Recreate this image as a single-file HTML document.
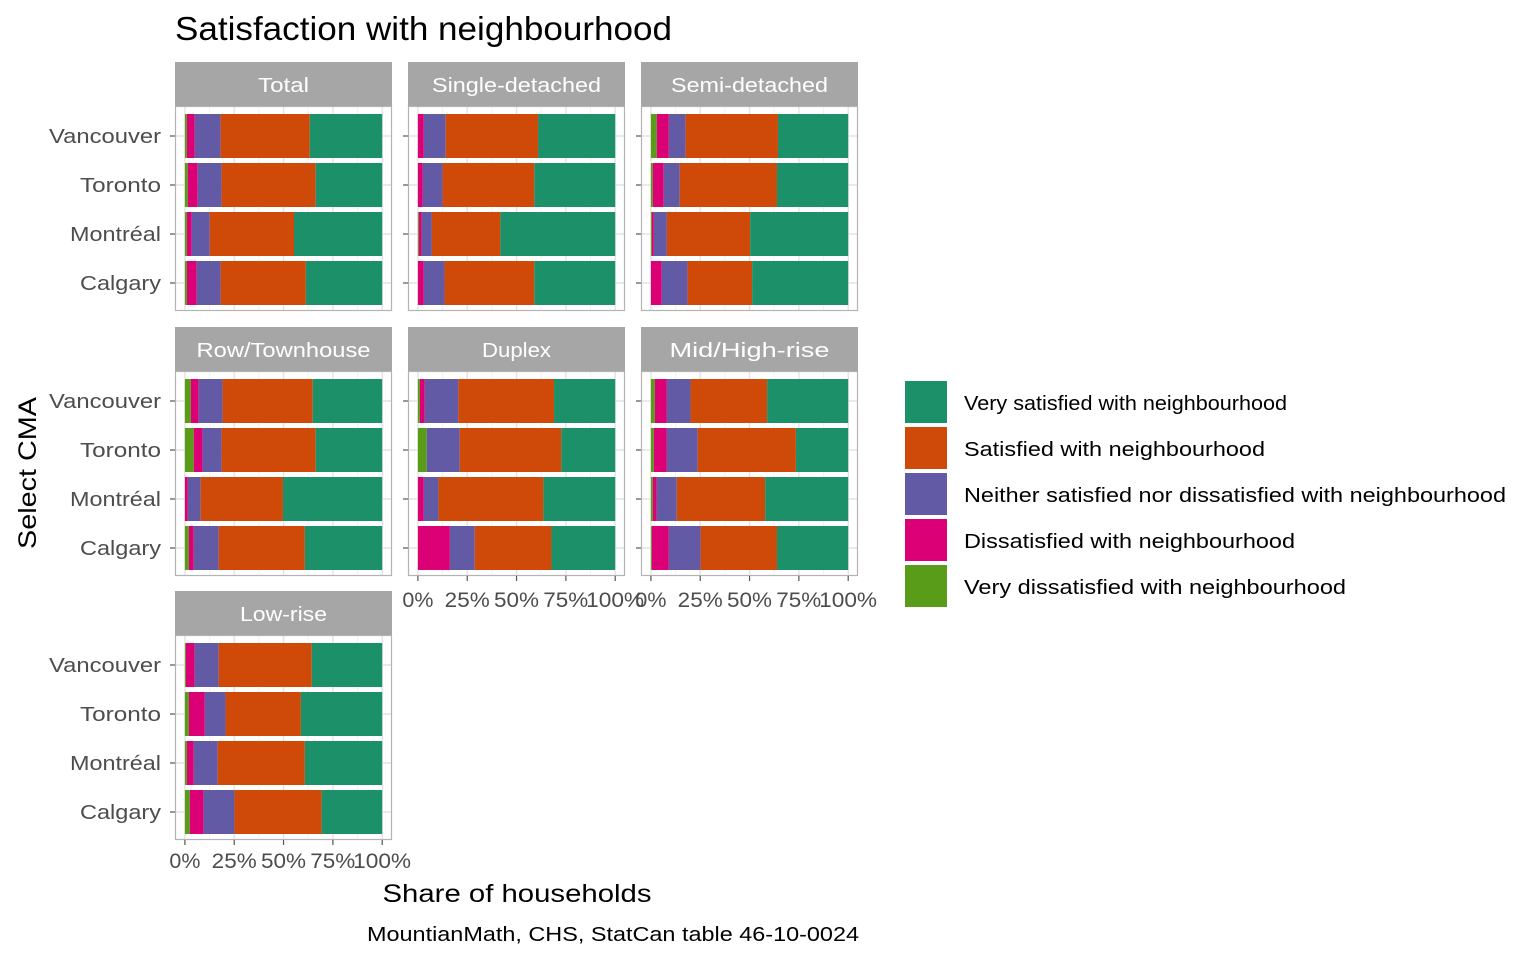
<!DOCTYPE html>
<html><head><meta charset="utf-8"><style>
html,body{margin:0;padding:0;background:#fff}
svg{display:block;font-family:"Liberation Sans",Arial,sans-serif}
</style></head><body>
<svg id="s" width="1536" height="960" xmlns="http://www.w3.org/2000/svg">
<g id="panels"></g>
<text x="175" y="40" font-size="33" fill="#000" textLength="497" lengthAdjust="spacingAndGlyphs">Satisfaction with neighbourhood</text>
<g font-size="20.5" fill="#fff" text-anchor="middle">
<rect x="175" y="62" width="217" height="44" fill="#a6a6a6"/><text x="283.5" y="92" textLength="51" lengthAdjust="spacingAndGlyphs">Total</text>
<rect x="408" y="62" width="217" height="44" fill="#a6a6a6"/><text x="516.5" y="92" textLength="169" lengthAdjust="spacingAndGlyphs">Single-detached</text>
<rect x="641" y="62" width="217" height="44" fill="#a6a6a6"/><text x="749.5" y="92" textLength="157" lengthAdjust="spacingAndGlyphs">Semi-detached</text>
<rect x="175" y="327" width="217" height="44" fill="#a6a6a6"/><text x="283.5" y="357" textLength="174" lengthAdjust="spacingAndGlyphs">Row/Townhouse</text>
<rect x="408" y="327" width="217" height="44" fill="#a6a6a6"/><text x="516.5" y="357" textLength="69" lengthAdjust="spacingAndGlyphs">Duplex</text>
<rect x="641" y="327" width="217" height="44" fill="#a6a6a6"/><text x="749.5" y="357" textLength="160" lengthAdjust="spacingAndGlyphs">Mid/High-rise</text>
<rect x="175" y="591" width="217" height="44" fill="#a6a6a6"/><text x="283.5" y="621" textLength="87" lengthAdjust="spacingAndGlyphs">Low-rise</text>
</g>
<g font-size="20.5" fill="#4d4d4d">
<text x="49" y="143" textLength="112" lengthAdjust="spacingAndGlyphs">Vancouver</text><text x="80" y="192" textLength="81" lengthAdjust="spacingAndGlyphs">Toronto</text><text x="70" y="241" textLength="91" lengthAdjust="spacingAndGlyphs">Montréal</text><text x="80" y="290" textLength="81" lengthAdjust="spacingAndGlyphs">Calgary</text>
<text x="49" y="408" textLength="112" lengthAdjust="spacingAndGlyphs">Vancouver</text><text x="80" y="457" textLength="81" lengthAdjust="spacingAndGlyphs">Toronto</text><text x="70" y="506" textLength="91" lengthAdjust="spacingAndGlyphs">Montréal</text><text x="80" y="555" textLength="81" lengthAdjust="spacingAndGlyphs">Calgary</text>
<text x="49" y="672" textLength="112" lengthAdjust="spacingAndGlyphs">Vancouver</text><text x="80" y="721" textLength="81" lengthAdjust="spacingAndGlyphs">Toronto</text><text x="70" y="770" textLength="91" lengthAdjust="spacingAndGlyphs">Montréal</text><text x="80" y="819" textLength="81" lengthAdjust="spacingAndGlyphs">Calgary</text>
</g>
<g font-size="21" fill="#4d4d4d" text-anchor="middle">
<text x="417.9" y="607" textLength="31" lengthAdjust="spacingAndGlyphs">0%</text><text x="467.2" y="607" textLength="45" lengthAdjust="spacingAndGlyphs">25%</text><text x="516.5" y="607" textLength="45" lengthAdjust="spacingAndGlyphs">50%</text><text x="565.8" y="607" textLength="45" lengthAdjust="spacingAndGlyphs">75%</text><text x="615.1" y="607" textLength="58" lengthAdjust="spacingAndGlyphs">100%</text>
<text x="650.9" y="607" textLength="31" lengthAdjust="spacingAndGlyphs">0%</text><text x="700.2" y="607" textLength="45" lengthAdjust="spacingAndGlyphs">25%</text><text x="749.5" y="607" textLength="45" lengthAdjust="spacingAndGlyphs">50%</text><text x="798.8" y="607" textLength="45" lengthAdjust="spacingAndGlyphs">75%</text><text x="848.1" y="607" textLength="58" lengthAdjust="spacingAndGlyphs">100%</text>
<text x="184.9" y="868" textLength="31" lengthAdjust="spacingAndGlyphs">0%</text><text x="234.2" y="868" textLength="45" lengthAdjust="spacingAndGlyphs">25%</text><text x="283.5" y="868" textLength="45" lengthAdjust="spacingAndGlyphs">50%</text><text x="332.8" y="868" textLength="45" lengthAdjust="spacingAndGlyphs">75%</text><text x="382.1" y="868" textLength="58" lengthAdjust="spacingAndGlyphs">100%</text>
</g>
<text x="517" y="902" font-size="25" text-anchor="middle" fill="#000" textLength="269" lengthAdjust="spacingAndGlyphs">Share of households</text>
<text transform="translate(36,473) rotate(-90)" font-size="25" text-anchor="middle" fill="#000" textLength="152" lengthAdjust="spacingAndGlyphs">Select CMA</text>
<text x="613" y="941" font-size="20" text-anchor="middle" fill="#000" textLength="492" lengthAdjust="spacingAndGlyphs">MountianMath, CHS, StatCan table 46-10-0024</text>
<g font-size="20.5" fill="#000">
<rect x="905" y="381" width="42" height="42" fill="#1c9068"/><text x="964" y="410" textLength="323" lengthAdjust="spacingAndGlyphs">Very satisfied with neighbourhood</text>
<rect x="905" y="427" width="42" height="42" fill="#cf4a08"/><text x="964" y="456" textLength="301" lengthAdjust="spacingAndGlyphs">Satisfied with neighbourhood</text>
<rect x="905" y="473" width="42" height="42" fill="#625aa4"/><text x="964" y="502" textLength="542" lengthAdjust="spacingAndGlyphs">Neither satisfied nor dissatisfied with neighbourhood</text>
<rect x="905" y="519" width="42" height="42" fill="#dc0077"/><text x="964" y="548" textLength="331" lengthAdjust="spacingAndGlyphs">Dissatisfied with neighbourhood</text>
<rect x="905" y="565" width="42" height="42" fill="#589c1a"/><text x="964" y="594" textLength="382" lengthAdjust="spacingAndGlyphs">Very dissatisfied with neighbourhood</text>
</g>
</svg>
<script>
var cols=["#589c1a","#dc0077","#625aa4","#cf4a08","#1c9068"];
var P=[
[175,106,[[1,5,18.1,63.3],[1.5,6.5,18.6,66.3],[1,3.5,12.6,55.3],[1,6,18.1,61.3]],0],
[408,106,[[0,3,14.1,60.9],[0,2.5,12.5,59],[0.5,2,7.1,41.8],[0,3,13.5,59]],0],
[641,106,[[3,9.1,17.6,64.4],[1,6.5,14.6,63.9],[0.5,1.5,8.1,50.3],[0,5.5,18.6,51.3]],0],
[175,371,[[3,7,19.1,64.8],[4.5,9,18.6,66.3],[0,1.5,8,49.7],[2,4.5,17.1,60.8]],0],
[408,371,[[1,3.5,20.5,69],[4.5,4.5,21.2,72.7],[0,3,10.4,63.6],[0,16.2,28.8,67.7]],1],
[641,371,[[2,8.1,20.1,58.9],[1.5,8.1,23.7,73.5],[1,3,13.1,57.9],[0.5,9.1,25.2,63.9]],1],
[175,635,[[0.5,5,17.1,64.3],[2,10.1,20.6,58.8],[1,4.5,16.6,60.8],[2.5,9.5,25.1,69.3]],1]
];
var h="";
P.forEach(function(p){
 var x0=p[0],y0=p[1],z=x0+9.9,w=197.3;
 h+='<rect x="'+x0+'" y="'+y0+'" width="217" height="205" fill="#fff"/>';
 for(var i=0;i<9;i++){var gx=z+w*i/8;h+='<line x1="'+gx+'" x2="'+gx+'" y1="'+y0+'" y2="'+(y0+205)+'" stroke="'+(i%2?"#f2f2f2":"#e3e3e3")+'" stroke-width="'+(i%2?1:1.4)+'"/>';}
 for(var j=0;j<4;j++){var cy=y0+30+49*j;h+='<line x1="'+x0+'" x2="'+(x0+217)+'" y1="'+cy+'" y2="'+cy+'" stroke="#e3e3e3" stroke-width="1.4"/>';
  h+='<line x1="'+(x0-5)+'" x2="'+x0+'" y1="'+cy+'" y2="'+cy+'" stroke="#555" stroke-width="1.2"/>';
  var b=[0].concat(p[2][j]).concat([100]);
  for(var k=0;k<5;k++){if(b[k+1]>b[k])h+='<rect x="'+(z+w*b[k]/100)+'" y="'+(cy-22)+'" width="'+(w*(b[k+1]-b[k])/100)+'" height="44" fill="'+cols[k]+'"/>';}
 }
 h+='<rect x="'+(x0+0.5)+'" y="'+(y0+0.5)+'" width="216" height="204" fill="none" stroke="#b3b3b3" stroke-width="1.2"/>';
 if(p[3]){for(var i=0;i<5;i++){var gx=z+w*i/4;h+='<line x1="'+gx+'" x2="'+gx+'" y1="'+(y0+205)+'" y2="'+(y0+210)+'" stroke="#555" stroke-width="1.2"/>';}}
});
document.getElementById("panels").innerHTML=h;
</script>
</body></html>
